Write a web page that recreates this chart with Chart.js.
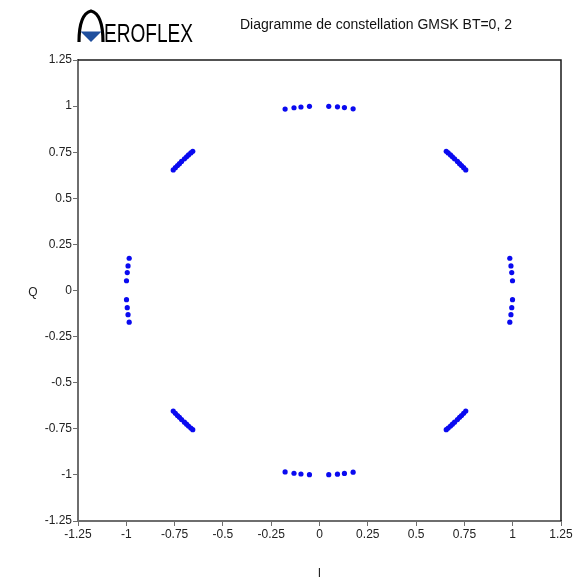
<!DOCTYPE html>
<html>
<head>
<meta charset="utf-8">
<script src="https://cdn.jsdelivr.net/npm/chart.js@4/dist/chart.umd.min.js"></script>
<style>
  html, body { margin: 0; padding: 0; background: #ffffff; }
  canvas { display: block; }
</style>
</head>
<body>
<canvas id="c" width="583" height="581"></canvas>
<script>
// ---- Data (I, Q pairs) ----
const titleText = 'Diagramme de constellation GMSK BT=0, 2';
const logoText = 'EROFLEX';
const xTitle = 'I';
const yTitle = 'Q';
const tickValues = [-1.25, -1, -0.75, -0.5, -0.25, 0, 0.25, 0.5, 0.75, 1, 1.25];
const tickLabels = ['-1.25', '-1', '-0.75', '-0.5', '-0.25', '0', '0.25', '0.5', '0.75', '1', '1.25'];

const clusterTop = [[-0.178, 0.984], [-0.132, 0.991], [-0.096, 0.995], [-0.052, 0.999],
                    [0.048, 0.999], [0.093, 0.996], [0.129, 0.992], [0.174, 0.985]];
const clusterBottom = [[-0.178, -0.984], [-0.132, -0.991], [-0.096, -0.995], [-0.052, -0.999],
                       [0.048, -0.999], [0.093, -0.996], [0.129, -0.992], [0.174, -0.985]];
const clusterLeft = [[-0.985, 0.175], [-0.991, 0.133], [-0.995, 0.097], [-0.999, 0.053],
                     [-0.999, -0.050], [-0.995, -0.093], [-0.991, -0.131], [-0.985, -0.172]];
const clusterRight = [[0.985, 0.175], [0.991, 0.133], [0.995, 0.097], [0.999, 0.053],
                      [0.999, -0.050], [0.995, -0.093], [0.991, -0.131], [0.985, -0.172]];
const clusterTopLeft = [[-0.656, 0.755], [-0.666, 0.746], [-0.678, 0.735], [-0.688, 0.725],
                        [-0.699, 0.714], [-0.714, 0.700], [-0.725, 0.688], [-0.735, 0.678],
                        [-0.746, 0.666], [-0.757, 0.654]];
const clusterTopRight = [[0.656, 0.755], [0.666, 0.746], [0.678, 0.735], [0.688, 0.725],
                         [0.699, 0.714], [0.714, 0.700], [0.725, 0.688], [0.735, 0.678],
                         [0.746, 0.666], [0.757, 0.654]];
const clusterBottomLeft = [[-0.656, -0.755], [-0.666, -0.746], [-0.678, -0.735], [-0.688, -0.725],
                           [-0.699, -0.714], [-0.714, -0.700], [-0.725, -0.688], [-0.735, -0.678],
                           [-0.746, -0.666], [-0.757, -0.654]];
const clusterBottomRight = [[0.656, -0.755], [0.666, -0.746], [0.678, -0.735], [0.688, -0.725],
                            [0.699, -0.714], [0.714, -0.700], [0.725, -0.688], [0.735, -0.678],
                            [0.746, -0.666], [0.757, -0.654]];

const allClusters = [clusterTop, clusterBottom, clusterLeft, clusterRight,
                     clusterTopLeft, clusterTopRight, clusterBottomLeft, clusterBottomRight];
const points = [];
allClusters.forEach(c => c.forEach(p => points.push({ x: p[0], y: p[1] })));

const FONT = '"Liberation Sans", Arial, sans-serif';

const decor = {
  id: 'decor',
  afterDraw(chart) {
    const ctx = chart.ctx;
    const a = chart.chartArea;
    ctx.save();
    // top and right frame lines
    ctx.strokeStyle = '#1a1a1a';
    ctx.lineWidth = 1.5;
    ctx.beginPath();
    ctx.moveTo(a.left, a.top);
    ctx.lineTo(a.right, a.top);
    ctx.lineTo(a.right, a.bottom);
    ctx.stroke();

    // upright y-axis title
    ctx.fillStyle = '#222';
    ctx.font = '12px ' + FONT;
    ctx.textAlign = 'center';
    ctx.textBaseline = 'middle';
    ctx.fillText(yTitle, 33, 293);

    // title
    ctx.fillStyle = '#111';
    ctx.font = '14px ' + FONT;
    ctx.textBaseline = 'middle';
    ctx.textAlign = 'left';
    ctx.fillText(titleText, 240, 25, 276);

    // logo: arch
    ctx.strokeStyle = '#000';
    ctx.lineWidth = 3.2;
    ctx.beginPath();
    ctx.moveTo(79, 42);
    ctx.quadraticCurveTo(79, 14, 91, 11);
    ctx.quadraticCurveTo(103, 14, 103, 42);
    ctx.stroke();
    // blue triangle
    ctx.fillStyle = '#1f4f9e';
    ctx.beginPath();
    ctx.moveTo(80.5, 31.5);
    ctx.lineTo(101.5, 31.5);
    ctx.lineTo(91, 42);
    ctx.closePath();
    ctx.fill();
    // logo text
    ctx.fillStyle = '#000';
    ctx.font = '26px ' + FONT;
    ctx.textBaseline = 'alphabetic';
    ctx.fillText(logoText, 104, 42, 89);
    ctx.restore();
  }
};

const axisCommon = {
  type: 'linear',
  min: -1.25,
  max: 1.25,
  afterBuildTicks(scale) {
    scale.ticks = tickValues.map(v => ({ value: v }));
  },
  ticks: {
    autoSkip: false,
    maxRotation: 0,
    color: '#222',
    font: { family: FONT, size: 12 },
    padding: 1,
    callback(v) {
      const i = tickValues.indexOf(v);
      return i >= 0 ? tickLabels[i] : '';
    }
  },
  grid: {
    display: true,
    drawOnChartArea: false,
    drawTicks: true,
    tickLength: 5,
    color: '#6e6e6e',
    lineWidth: 1
  },
  border: { display: true, color: '#6e6e6e', width: 2 }
};

new Chart(document.getElementById('c'), {
  type: 'scatter',
  data: {
    datasets: [{
      data: points,
      backgroundColor: '#0a0af0',
      borderColor: '#0a0af0',
      pointRadius: 2.6,
      pointHoverRadius: 2.6,
      borderWidth: 0
    }]
  },
  options: {
    responsive: false,
    animation: false,
    events: [],
    layout: { padding: { top: 60, right: 22, left: 0, bottom: 0 } },
    plugins: { legend: { display: false }, tooltip: { enabled: false }, title: { display: false } },
    scales: {
      x: Object.assign({}, axisCommon, {
        position: 'bottom',
        afterFit(scale) { scale.height = 60; },
        title: { display: true, text: xTitle, color: '#222', font: { family: FONT, size: 12 }, padding: { top: 0, bottom: 0 } }
      }),
      y: Object.assign({}, axisCommon, {
        position: 'left',
        afterFit(scale) { scale.width = 78; },
        title: { display: false }
      })
    }
  },
  plugins: [decor]
});
</script>
</body>
</html>
